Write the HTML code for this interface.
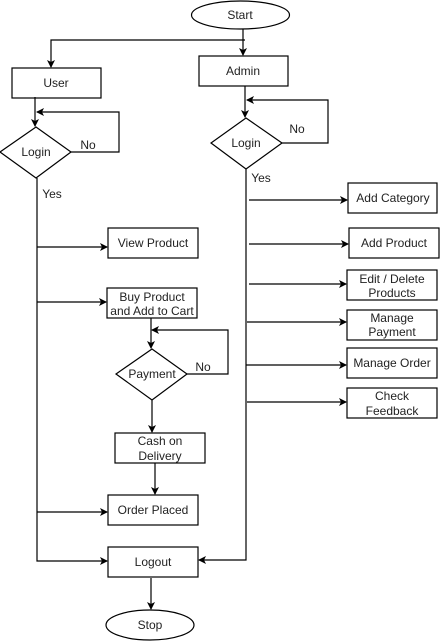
<!DOCTYPE html>
<html><head><meta charset="utf-8"><style>
html,body{margin:0;padding:0;background:#fff;}
svg{display:block;}
text{font-family:"Liberation Sans",Arial,sans-serif;font-size:12px;fill:#222;text-anchor:middle;}
</style></head><body>
<svg width="440" height="641" viewBox="0 0 440 641" xmlns="http://www.w3.org/2000/svg">
<defs><marker id="a" markerWidth="8" markerHeight="8" refX="7" refY="4" orient="auto" markerUnits="userSpaceOnUse"><path d="M0,0 L8,4 L0,8 L2,4 z" fill="#000"/></marker></defs>
<g fill="none" stroke="#000" stroke-width="1.2">
<ellipse cx="240.5" cy="15" rx="49" ry="14"/>
<rect x="12" y="68" width="89" height="30"/>
<rect x="199" y="56" width="89" height="30"/>
<polygon points="36,127 71,152 36,178 0,152"/>
<polygon points="246,118 282,143 246,169 211,143"/>
<rect x="348" y="183" width="89" height="30"/>
<rect x="349" y="228" width="90" height="30"/>
<rect x="347" y="270" width="90" height="30"/>
<rect x="347" y="310" width="90" height="30"/>
<rect x="347" y="348" width="90" height="30"/>
<rect x="347" y="388" width="90" height="30"/>
<rect x="108" y="228" width="90" height="30"/>
<rect x="107" y="288" width="90" height="30"/>
<polygon points="152,349 187,374 152,400 116,374"/>
<rect x="115" y="433" width="90" height="30"/>
<rect x="108" y="495" width="90" height="30"/>
<rect x="108" y="547" width="90" height="30"/>
<ellipse cx="150" cy="625" rx="44" ry="15"/>
<!-- connectors -->
<path d="M243,29 V40"/>
<path d="M245,40 H51 V67" marker-end="url(#a)"/>
<path d="M243,40 V55" marker-end="url(#a)"/>
<path d="M35,97 V126" marker-end="url(#a)"/>
<path d="M71,152 H119 V112 H37" marker-end="url(#a)"/>
<path d="M37,178 V561 H107" marker-end="url(#a)"/>
<path d="M245,86 V117" marker-end="url(#a)"/>
<path d="M282,143 H328 V100 H247" marker-end="url(#a)"/>
<path d="M246,169 V560 H199" marker-end="url(#a)"/>
<path d="M249,200 H347" marker-end="url(#a)"/>
<path d="M249,244 H348" marker-end="url(#a)"/>
<path d="M249,284 H346" marker-end="url(#a)"/>
<path d="M247,322 H346" marker-end="url(#a)"/>
<path d="M246,365 H346" marker-end="url(#a)"/>
<path d="M247,402 H346" marker-end="url(#a)"/>
<path d="M37,247 H107" marker-end="url(#a)"/>
<path d="M37,302 H106" marker-end="url(#a)"/>
<path d="M37,512 H107" marker-end="url(#a)"/>
<path d="M151,318 V348" marker-end="url(#a)"/>
<path d="M187,374 H228 V330 H152" marker-end="url(#a)"/>
<path d="M152,400 V432" marker-end="url(#a)"/>
<path d="M155,463 V494" marker-end="url(#a)"/>
<path d="M151,578 V609" marker-end="url(#a)"/>
</g>
<text x="240" y="19">Start</text>
<text x="56" y="87">User</text>
<text x="243" y="75">Admin</text>
<text x="36" y="156">Login</text>
<text x="246" y="147">Login</text>
<text x="88" y="149">No</text>
<text x="297" y="133">No</text>
<text x="52" y="198">Yes</text>
<text x="261" y="182">Yes</text>
<text x="393" y="202">Add Category</text>
<text x="394" y="247">Add Product</text>
<text x="392" y="283">Edit / Delete</text>
<text x="392" y="297">Products</text>
<text x="392" y="322">Manage</text>
<text x="392" y="336">Payment</text>
<text x="392" y="367">Manage Order</text>
<text x="392" y="400">Check</text>
<text x="392" y="415">Feedback</text>
<text x="153" y="247">View Product</text>
<text x="152" y="301">Buy Product</text>
<text x="152" y="315">and Add to Cart</text>
<text x="152" y="378">Payment</text>
<text x="203" y="371">No</text>
<text x="160" y="445">Cash on</text>
<text x="160" y="460">Delivery</text>
<text x="153" y="514">Order Placed</text>
<text x="153" y="566">Logout</text>
<text x="150" y="629">Stop</text>
</svg>
</body></html>
